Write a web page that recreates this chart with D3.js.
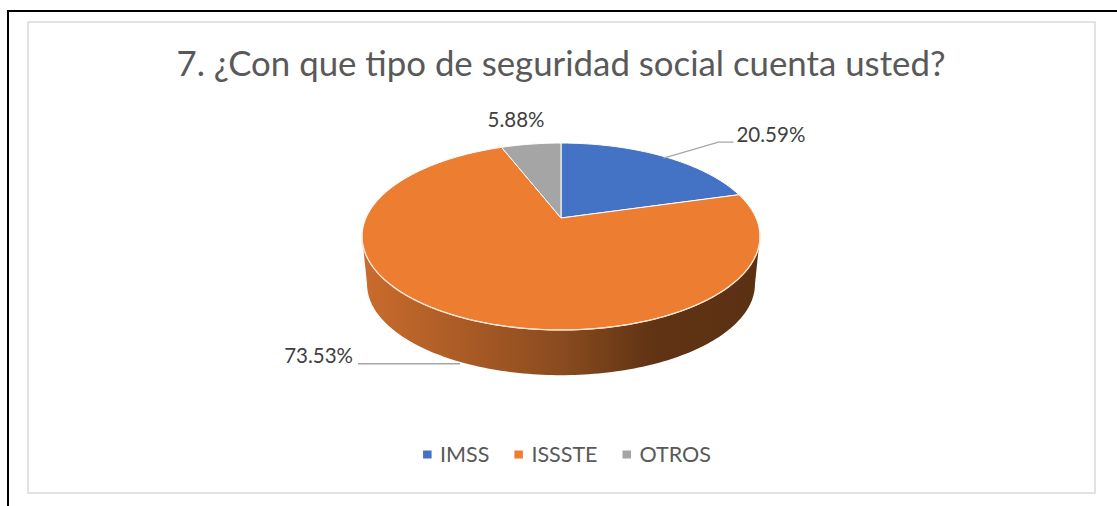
<!DOCTYPE html>
<html>
<head>
<meta charset="utf-8">
<script src="https://cdn.jsdelivr.net/npm/d3@7"></script>
<style>
  body { margin: 0; background: #fff; }
  text { font-family: Lato, "Open Sans", sans-serif; }
</style>
</head>
<body>
<div id="chart"></div>
<script>
// Chart data
var title = "7. ¿Con que tipo de seguridad social cuenta usted?";
var categories = ["IMSS", "ISSSTE", "OTROS"];
var values = [20.59, 73.53, 5.88];
var valueLabels = ["20.59%", "73.53%", "5.88%"];
var colors = ["#4472c4", "#ed7d31", "#a5a5a5"];

var width = 1117, height = 506;

var svg = d3.select("#chart")
  .append("svg")
  .attr("width", width)
  .attr("height", height);

// outer black frame (top + left only)
svg.append("line")
  .attr("x1", 7).attr("x2", width).attr("y1", 11).attr("y2", 11)
  .attr("stroke", "#000").attr("stroke-width", 2);
svg.append("line")
  .attr("x1", 8).attr("x2", 8).attr("y1", 10).attr("y2", height)
  .attr("stroke", "#000").attr("stroke-width", 2);

// chart area border
svg.append("rect")
  .attr("x", 28).attr("y", 22)
  .attr("width", 1067).attr("height", 471)
  .attr("fill", "#fff")
  .attr("stroke", "#d9d9d9")
  .attr("stroke-width", 1.5);

svg.append("text")
  .attr("x", 561).attr("y", 76)
  .attr("text-anchor", "middle")
  .attr("fill", "#595959")
  .style("font-size", "34.8px")
  .text(title);

/* -------------------------------------------------------------------------- */
/*                              3D pie projection                             */
/* -------------------------------------------------------------------------- */

var cx = 561, cy = 218, rx = 195, ry = 89.8, k = 0.198;
var depth = 48, shrink = 0.975;

// angle a: radians clockwise from 12 o'clock (same as d3.pie)
function proj(a, bottom) {
  var u = Math.sin(a), v = -Math.cos(a);
  var s = 1 / (1 - k * v);
  var f = bottom ? shrink : 1;
  return [cx + rx * u * s * f, cy + (bottom ? depth : 0) + ry * v * s * f];
}

function arcPoints(a0, a1, bottom) {
  var n = Math.max(2, Math.ceil(Math.abs(a1 - a0) / 0.02));
  var pts = [];
  for (var i = 0; i <= n; i++) {
    pts.push(proj(a0 + (a1 - a0) * i / n, bottom));
  }
  return pts;
}

var pie = d3.pie().sort(null).value(function (d) { return d; });
var arcs = pie(values);

var line = d3.line();

var defs = svg.append("defs");
var grad = defs.append("linearGradient")
  .attr("id", "side")
  .attr("gradientUnits", "userSpaceOnUse")
  .attr("x1", cx - rx).attr("x2", cx + rx)
  .attr("y1", 0).attr("y2", 0);
[[0, "#c96b2c"], [0.25, "#aa5b26"], [0.5, "#8a4b1f"], [0.74, "#5f3314"], [1, "#5c3113"]]
  .forEach(function (s) {
    grad.append("stop").attr("offset", s[0]).attr("stop-color", s[1]);
  });

// visible front wall, between left and right silhouette points
var aR = Math.acos(-k), aL = 2 * Math.PI - aR;
var wall = arcPoints(aR, aL, false).concat(arcPoints(aL, aR, true));
svg.append("path")
  .attr("d", line(wall) + "Z")
  .attr("fill", "url(#side)");

// top face slices
svg.append("g")
  .selectAll("path")
  .data(arcs)
  .enter()
  .append("path")
  .attr("d", function (d) {
    var pts = [[cx, cy]].concat(arcPoints(d.startAngle, d.endAngle, false));
    return line(pts) + "Z";
  })
  .attr("fill", function (d, i) { return colors[i]; })
  .attr("stroke", "#fff")
  .attr("stroke-width", 1)
  .attr("stroke-linejoin", "round");

// light rim along the front edge
svg.append("path")
  .attr("d", line(arcPoints(aR - 0.05, aL + 0.05, false)))
  .attr("fill", "none")
  .attr("stroke", "#fbe3cf")
  .attr("stroke-width", 1.3);

/* -------------------------------------------------------------------------- */
/*                                Data labels                                 */
/* -------------------------------------------------------------------------- */

function mid(d) { return (d.startAngle + d.endAngle) / 2; }

var labelG = svg.append("g")
  .attr("fill", "#404040")
  .style("font-size", "20.5px");

// IMSS: elbow leader to the right
var p = proj(mid(arcs[0]), false);
svg.append("polyline")
  .attr("points", [[p[0] + 1, p[1] + 2], [p[0] + 56, p[1] - 14], [p[0] + 71, p[1] - 14]].join(" "))
  .attr("fill", "none").attr("stroke", "#a6a6a6").attr("stroke-width", 1.3);
labelG.append("text")
  .attr("x", p[0] + 74).attr("y", p[1] - 14)
  .text(valueLabels[0]);

// ISSSTE: horizontal leader from the side wall
p = proj(mid(arcs[1]), true);
svg.append("line")
  .attr("x1", p[0] + 2).attr("y1", p[1] + 2.5)
  .attr("x2", p[0] - 100).attr("y2", p[1] + 2.5)
  .attr("stroke", "#a6a6a6").attr("stroke-width", 1.3);
labelG.append("text")
  .attr("x", p[0] - 105).attr("y", p[1] + 2)
  .attr("text-anchor", "end")
  .text(valueLabels[1]);

// OTROS: just above the rim
p = proj(mid(arcs[2]), false);
labelG.append("text")
  .attr("x", p[0] - 15).attr("y", p[1] - 17)
  .attr("text-anchor", "middle")
  .text(valueLabels[2]);

/* -------------------------------------------------------------------------- */
/*                                   Legend                                   */
/* -------------------------------------------------------------------------- */

var legend = svg.append("g");
var lx = 0;
categories.forEach(function (c, i) {
  var item = legend.append("g").attr("transform", "translate(" + lx + ",0)");
  item.append("rect")
    .attr("x", 0).attr("y", 450.5)
    .attr("width", 8.5).attr("height", 8)
    .attr("fill", colors[i]);
  var t = item.append("text")
    .attr("x", 17).attr("y", 462)
    .attr("fill", "#595959")
    .style("font-size", "21.5px")
    .text(c);
  lx += 17 + t.node().getComputedTextLength() + 25;
});
lx -= 25;
legend.attr("transform", "translate(" + (567 - lx / 2) + ",0)");
</script>
</body>
</html>
